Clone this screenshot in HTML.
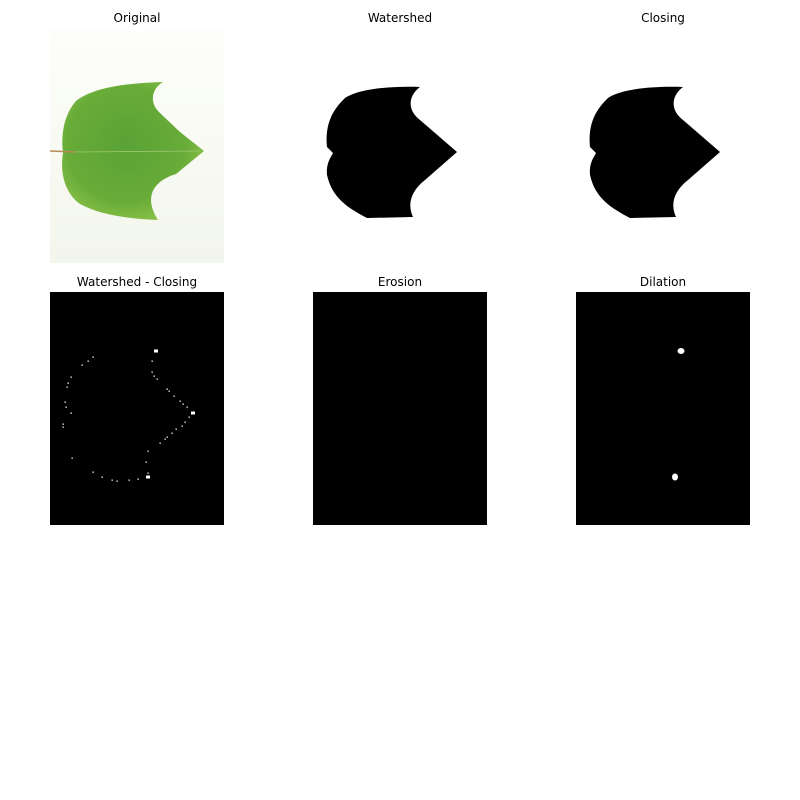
<!DOCTYPE html>
<html><head><meta charset="utf-8"><style>
html,body{margin:0;padding:0;background:#fff;}
svg{display:block;}
text{font-family:"DejaVu Sans","Liberation Sans",sans-serif;font-size:12px;fill:#000;}
</style></head><body>
<svg width="800" height="800" viewBox="0 0 800 800">
<defs>
<linearGradient id="bg" x1="0" y1="0" x2="0" y2="1"><stop offset="0" stop-color="#fdfefa"/><stop offset="1" stop-color="#f3f6ec"/></linearGradient>
<radialGradient id="leafg" cx="0.45" cy="0.45" r="0.6"><stop offset="0" stop-color="#5aa236"/><stop offset="0.7" stop-color="#68ac38"/><stop offset="1" stop-color="#8cc24a"/></radialGradient>
<path id="mask" d="M420,87 C408,96 407,110 420,120 L457,152 L425,180 C411,191 407,204 413,217 L367,218 C348,208 332,198 327,175 C326,163 331,157 333,153 L327,147 C325,128 330,112 345,98 C360,88 395,86 420,87 Z"/>
</defs>
<g>
<text x="137" y="22" text-anchor="middle">Original</text>
<rect x="50" y="29" width="174" height="234" fill="url(#bg)"/>
<path fill="url(#leafg)" d="M163,82 C150,90 150,104 160,113 L180,132 L204,151 L176,174 C156,180 142,195 158,220 C130,219 100,215 80,204 C64,192 60,172 63,153 C61,136 63,116 76,101 C92,88 125,83 163,82 Z"/>
<line x1="50" y1="151" x2="75" y2="152" stroke="#b78a5a" stroke-width="1.5"/>
<line x1="75" y1="152" x2="200" y2="151" stroke="#9cc870" stroke-width="0.8"/>
</g>
<g>
<text x="400" y="22" text-anchor="middle">Watershed</text>
<use href="#mask" fill="#000"/>
</g>
<g>
<text x="663" y="22" text-anchor="middle">Closing</text>
<use href="#mask" transform="translate(263,0)" fill="#000"/>
</g>
<g>
<text x="137" y="286" text-anchor="middle">Watershed - Closing</text>
<rect x="50" y="292" width="174" height="233" fill="#000"/>
<g id="dots" fill="#fff"></g>
</g>
<g>
<text x="400" y="286" text-anchor="middle">Erosion</text>
<rect x="313" y="292" width="174" height="233" fill="#000"/>
</g>
<g>
<text x="663" y="286" text-anchor="middle">Dilation</text>
<rect x="576" y="292" width="174" height="233" fill="#000"/>
<ellipse cx="681" cy="351" rx="3.5" ry="3" fill="#fff"/>
<ellipse cx="675" cy="477" rx="3" ry="3.5" fill="#fff"/>
</g>
</svg>
<script>
const dotX=[93,88,82,71,68,67,65,66,71,63,63,72,93,102,112,117,129,138,148,148,146,148,160,165,167,172,176,182,185,189,193,187,183,180,174,169,167,157,154,152,152,156];
const dotY=[357,361,365,377,383,387,402,407,413,424,427,458,472,477,480,481,480,479,477,473,462,451,443,439,437,433,429,426,422,417,413,407,404,401,396,391,389,379,376,372,361,351];
const g=document.getElementById('dots');
for(let i=0;i<dotX.length;i++){
  const big=(i===18||i===30||i===41);
  const r=document.createElementNS('http://www.w3.org/2000/svg','rect');
  r.setAttribute('x',dotX[i]-(big?2:0.5));
  r.setAttribute('y',dotY[i]-(big?1.5:0.5));
  r.setAttribute('width',big?4:1.3);
  r.setAttribute('height',big?3:1.3);
  
  
  g.appendChild(r);
}
</script>
</body></html>
